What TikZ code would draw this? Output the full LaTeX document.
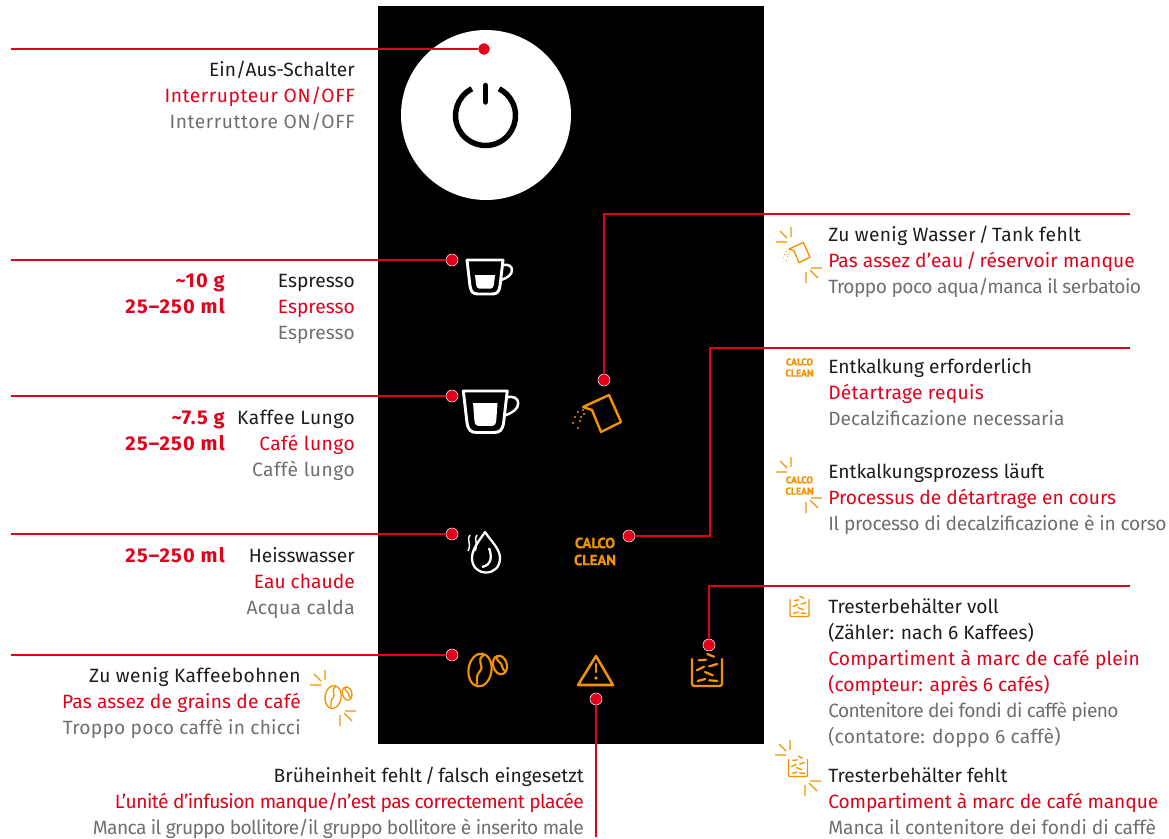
\documentclass[tikz,border=0pt]{standalone}
\usepackage{fontspec}
\setmainfont{Fira Sans}
\newfontfamily\calcofont[FakeBold=1]{PT Sans}
\definecolor{lered}{HTML}{E2001A}
\definecolor{leorange}{HTML}{F39200}
\definecolor{legrey}{HTML}{6F6F6E}
\definecolor{leblack}{HTML}{1D1D1B}
\newcommand{\trio}[3]{\rule{0pt}{12pt}\textcolor{leblack}{#1}\\\textcolor{lered}{#2}\\\textcolor{legrey}{#3}}
\newcommand{\track}[2]{{\addfontfeature{LetterSpace=#1}#2}}
\tikzset{
  leader/.style={draw=white,double=lered,line width=.25pt,double distance=.78pt},
  dotted node/.style={circle,fill=lered,draw=white,line width=.4pt,minimum size=9pt,inner sep=0pt},
  labelleft/.style={anchor=north west,align=left,inner sep=0pt,font=\fontsize{14.4pt}{19.5pt}\selectfont},
  labelright/.style={anchor=north east,align=right,inner sep=0pt,font=\fontsize{14.4pt}{19.5pt}\selectfont},
  gramlabel/.style={anchor=north east,align=right,inner sep=0pt,text=lered,font=\fontsize{15pt}{19.5pt}\selectfont\bfseries\addfontfeature{LetterSpace=6}},
  calcobig/.style={align=center,inner sep=0pt,text=leorange,font=\fontsize{11pt}{12.8pt}\calcofont\bfseries},
  calcosmall/.style={align=center,inner sep=0pt,text=leorange,font=\fontsize{7.4pt}{8.4pt}\calcofont\bfseries},
  orangeline/.style={draw=leorange,line width=#1,line cap=round,line join=round},
  whiteline/.style={draw=white,line width=#1,line join=round},
  pics/cuppic/.style={code={
    \draw[whiteline=2.2pt] (-18,0) -- (18,0) -- (15,26) .. controls (14,32) and (12,34) .. (7,34) -- (-7,34) .. controls (-12,34) and (-14,32) .. (-15,26) -- cycle;
    \draw[whiteline=1.9pt] (18,5) .. controls (23,4) and (27,6) .. (27,10) .. controls (27,15) and (22,18) .. (16,20);
    \fill[white] (-10,#1) -- (10,#1) -- (9,24) .. controls (8.5,27) and (8,28.5) .. (6,28.5) -- (-6,28.5) .. controls (-8,28.5) and (-8.5,27) .. (-9,24) -- cycle;
  }},
  pics/jugpic/.style={code={
    \draw[orangeline=#1] (-8,-3) -- (-17,-6) -- (9,-18) -- (21,9) -- (1,19) -- cycle;
    \foreach \dotx/\doty in {-17/-3,-22/-1,-25/4,-27/10,-20/8,-22/15,-16/1,-19/4}
      \fill[leorange] (\dotx,\doty) circle (1.1);
  }},
  pics/beanspic/.style={code={
    \draw[orangeline=#1,rotate around={-8:(-7,2)}] (-7,2) ellipse (11.5 and 16.5);
    \draw[orangeline=#1] (-3,-13) .. controls (-12,-8) and (-2,-2) .. (-7,3) .. controls (-11,7) and (-10,11) .. (-10,16);
    \draw[orangeline=#1,rotate around={15:(13,-3)}] (13,-3) ellipse (6.8 and 9.5);
    \draw[orangeline=#1] (10,-11) .. controls (9,-6) and (15,-6) .. (15,-2) .. controls (15,1) and (17,2) .. (18,3);
  }},
  pics/groundspic/.style={code={
    \draw[orangeline=#1] (-15,-13.5) -- (-15,11) .. controls (-15,13) and (-14,13.5) .. (-12,13.5) -- (12,13.5) .. controls (14,13.5) and (15,13) .. (15,11) -- (15,-13.5);
    \foreach \xa/\ya/\xb/\yb in {.3/-18.5/7/-15.8,-8.3/-12.2/-1/-12.8,2.3/-6.2/10.3/-8.5,-10.3/-2.2/-3/-5.8,-2/-.5/5.7/2.8,-9.3/8.5/-1.7/6.5,2.3/7.8/10.3/8.5}
      \draw[orangeline=#1] (\xa,\ya) -- (\xb,\yb);
  }},
  pics/rayspic/.style={code={
    \draw[orangeline=.85pt,line cap=butt] (-8,-28) -- (-8,-18) (-19,-24) -- (-12,-17) (-23,-13) -- (-12,-13);
    \draw[orangeline=.85pt,line cap=butt] (23,13) -- (12,13) (11,15) -- (19,23) (7,17) -- (7,28);
  }},
}
\begin{document}
\begin{tikzpicture}[x=.75pt,y=-.75pt]
\useasboundingbox (0,0) rectangle (1169,838);
\fill[black] (378,6) rectangle (764,744);
\fill[white] (486,115) circle (85);
\draw[draw=black,line width=4.1pt] (471.9,88.8) arc[start angle=117,end angle=423,radius=22.5pt];
\draw[draw=black,line width=4.1pt,line cap=round] (485.5,85.5) -- (485.5,102);
\pic at (485,260) {cuppic=15};
\pic[scale=1.22] at (485.3,391) {cuppic=10};
\draw[whiteline=1.7pt] (485,532) .. controls (479,541) and (472,549) .. (472,558) .. controls (472,567) and (478,572.5) .. (486,572.5) .. controls (494,572.5) and (500,567) .. (500,558) .. controls (500,549) and (491,541) .. (485,532) -- cycle;
\draw[whiteline=1.7pt] (489,548) .. controls (492,556) and (492,565) .. (482,567);
\draw[whiteline=1.1pt] (470,535) .. controls (466,539) and (472,543) .. (468,551);
\draw[whiteline=1.1pt] (477,535) .. controls (473,539) and (479,543) .. (475,551);
\pic at (600,413) {jugpic=1.8pt};
\node[calcobig] (calcopanel) at (595,551.5) {CALCO\\CLEAN};
\pic at (487,668) {beanspic=1.6pt};
\draw[orangeline=1.9pt] (596,656) -- (578,685) -- (613,685) -- cycle;
\draw[orangeline=1.7pt] (596,664) -- (596,672);
\fill[leorange] (596,678) circle (1.9);
\pic at (707,672.5) {groundspic=1.7pt};
\node[dotted node] (dotpower) at (484,49) {};
\node[dotted node] (dotespresso) at (452,260) {};
\node[dotted node] (dotlungo) at (452,396) {};
\node[dotted node] (dotwater) at (452,534) {};
\node[dotted node] (dotbeans) at (452,655) {};
\node[dotted node] (dottank) at (604,380) {};
\node[dotted node] (dotcalco) at (629,536) {};
\node[dotted node] (dotgrounds) at (709,645) {};
\node[dotted node] (dotunit) at (596,699) {};
\coordinate (endpower) at (11,49);
\coordinate (endespresso) at (11,260);
\coordinate (endlungo) at (11,396);
\coordinate (endwater) at (11,534);
\coordinate (endbeans) at (11,655);
\coordinate (endtank) at (1130,214);
\coordinate (bendcalco) at (710,348);
\coordinate (endcalco) at (1130,348);
\coordinate (endgrounds) at (1130,586);
\coordinate (endunit) at (596,837);
\draw[leader] (dotpower) -- (endpower);
\draw[leader] (dotespresso) -- (endespresso);
\draw[leader] (dotlungo) -- (endlungo);
\draw[leader] (dotwater) -- (endwater);
\draw[leader] (dotbeans) -- (endbeans);
\draw[leader] (dottank) |- (endtank);
\draw[leader] (dotcalco) -| (bendcalco) -- (endcalco);
\draw[leader] (dotgrounds) |- (endgrounds);
\draw[leader] (dotunit) -- (endunit);
\node[labelright] (textpower) at (355,60.5) {\trio{Ein/Aus-Schalter}{\track{3}{Interrupteur ON/OFF}}{\track{3}{Interruttore ON/OFF}}};
\node[labelright] (textespresso) at (355,271.5) {\trio{Espresso}{Espresso}{Espresso}};
\node[gramlabel] (gramespresso) at (225,271.5) {\rule{0pt}{12pt}\textasciitilde10 g\\25–250 ml};
\node[labelright] (textlungo) at (355,408.5) {\trio{\track{2.4}{Kaffee Lungo}}{\track{2.4}{Café lungo}}{\track{2.6}{Caffè lungo}}};
\node[gramlabel] (gramlungo) at (225,408.5) {\rule{0pt}{12pt}\textasciitilde7.5 g\\25–250 ml};
\node[labelright] (textwater) at (355,546.5) {\trio{Heisswasser}{Eau chaude}{\track{2}{Acqua calda}}};
\node[gramlabel] (gramwater) at (225,546.5) {\rule{0pt}{12pt}25–250 ml};
\node[labelright] (textbeans) at (301,666.5) {\trio{\track{2.2}{Zu wenig Kaffeebohnen}}{\track{1.1}{Pas assez de grains de café}}{\track{1.2}{Troppo poco caffè in chicci}}};
\node[labelright] (textunit) at (584,766) {\trio{Brüheinheit fehlt\,/\,falsch eingesetzt}{\track{-2.8}{L’unité d’infusion manque/n’est pas correctement placée}}{\track{-3.2}{Manca il gruppo bollitore/il gruppo bollitore è inserito male}}};
\node[labelleft] (texttank) at (828,225.5) {\trio{\track{1.9}{Zu wenig Wasser\,/\,Tank fehlt}}{\track{.5}{Pas assez d’eau\,/\,réservoir manque}}{\track{-2.8}{Troppo poco aqua/manca il serbatoio}}};
\node[labelleft] (textcalco) at (828,357.5) {\trio{Entkalkung erforderlich}{\track{1.6}{Détartrage requis}}{Decalzificazione necessaria}};
\node[labelleft] (textclean) at (828,462) {\trio{Entkalkungsprozess läuft}{Processus de détartrage en cours}{\track{-1.6}{Il processo di decalzificazione è in corso}}};
\node[labelleft] (textfull) at (828,597) {\rule{0pt}{12pt}\textcolor{leblack}{Tresterbehälter voll}\\\textcolor{leblack}{(Zähler: nach 6 Kaffees)}\\\textcolor{lered}{\track{1.2}{Compartiment à marc de café plein}}\\\textcolor{lered}{(compteur: après 6 cafés)}\\\textcolor{legrey}{\track{-3.3}{Contenitore dei fondi di caffè pieno}}\\\textcolor{legrey}{\track{1.2}{(contatore: doppo 6 caffè)}}};
\node[labelleft] (textnone) at (828,766) {\trio{Tresterbehälter fehlt}{\track{-.5}{Compartiment à marc de café manque}}{\track{-.4}{Manca il contenitore dei fondi di caffè}}};
\pic[scale=.55] at (798.4,252.3) {jugpic=1pt};
\pic at (799,255) {rayspic};
\node[calcosmall] (calcoone) at (799.5,367.5) {CALCO\\CLEAN};
\node[calcosmall] (calcotwo) at (799.5,485.5) {CALCO\\CLEAN};
\pic at (799,485) {rayspic};
\pic[scale=.63] at (799.5,608) {groundspic=1pt};
\pic[scale=.63] at (798,768) {groundspic=1pt};
\pic at (798,768) {rayspic};
\pic[scale=.7] at (338,695.6) {beanspic=1pt};
\pic at (333,698) {rayspic};
\end{tikzpicture}
\end{document}
